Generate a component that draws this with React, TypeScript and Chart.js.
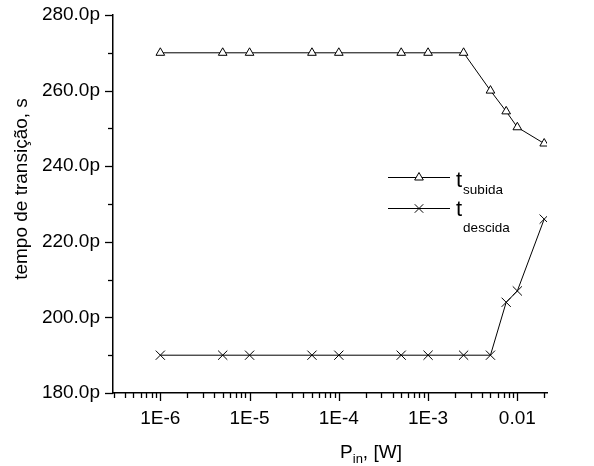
import React, { useEffect, useRef } from "react";
import { Chart, registerables } from "chart.js";

Chart.register(...registerables);

const FONT = "'Liberation Sans', Arial, sans-serif";

const pin = [1e-6, 5e-6, 1e-5, 5e-5, 1e-4, 5e-4, 1e-3, 2.5e-3, 5e-3, 7.5e-3, 0.01, 0.02];
const tSubida = [270, 270, 270, 270, 270, 270, 270, 270, 260, 254.5, 250.3, 246];
const tDescida = [190, 190, 190, 190, 190, 190, 190, 190, 190, 204, 207, 226];

const xTickValues = [1e-6, 1e-5, 1e-4, 1e-3, 0.01];
const xTickLabels = ["1E-6", "1E-5", "1E-4", "1E-3", "0.01"];
const yTickValues = [180, 200, 220, 240, 260, 280];
const yMinorValues = [190, 210, 230, 250, 270];

const X_MIN = 2.95e-7;
const X_MAX = 0.0215;

function drawTriangle(ctx: CanvasRenderingContext2D, x: number, y: number, r: number) {
  const h = r * 1.5;
  const w = r * Math.sqrt(3);
  ctx.beginPath();
  ctx.moveTo(x, y - r);
  ctx.lineTo(x - w / 2, y - r + h);
  ctx.lineTo(x + w / 2, y - r + h);
  ctx.closePath();
  ctx.fillStyle = "#fff";
  ctx.fill();
  ctx.stroke();
}

function drawCross(ctx: CanvasRenderingContext2D, x: number, y: number, r: number) {
  const d = r * Math.SQRT1_2;
  ctx.beginPath();
  ctx.moveTo(x - d, y - d);
  ctx.lineTo(x + d, y + d);
  ctx.moveTo(x - d, y + d);
  ctx.lineTo(x + d, y - d);
  ctx.stroke();
}

const decorPlugin = {
  id: "decor",
  afterDraw(chart: any) {
    const ctx: CanvasRenderingContext2D = chart.ctx;
    const xs = chart.scales.x;
    const ys = chart.scales.y;
    const area = chart.chartArea;
    ctx.save();
    ctx.strokeStyle = "#000";
    ctx.fillStyle = "#000";
    ctx.lineWidth = 1.3;
    for (let e = -7; e <= -1; e++) {
      for (let m = 1; m <= 9; m++) {
        const v = m * Math.pow(10, e);
        if (v < X_MIN * 0.999 || v > X_MAX * 1.001) continue;
        const px = Math.round(xs.getPixelForValue(v)) + 0.5;
        const len = m === 1 ? 8 : 5;
        ctx.beginPath();
        ctx.moveTo(px, area.bottom);
        ctx.lineTo(px, area.bottom + len);
        ctx.stroke();
      }
    }
    for (const v of yTickValues) {
      const py = Math.round(ys.getPixelForValue(v)) + 0.5;
      ctx.beginPath();
      ctx.moveTo(area.left - 8, py);
      ctx.lineTo(area.left, py);
      ctx.stroke();
    }
    for (const v of yMinorValues) {
      const py = Math.round(ys.getPixelForValue(v)) + 0.5;
      ctx.beginPath();
      ctx.moveTo(area.left - 5, py);
      ctx.lineTo(area.left, py);
      ctx.stroke();
    }
    // y title
    ctx.save();
    ctx.translate(27, 189);
    ctx.rotate(-Math.PI / 2);
    ctx.font = `19px ${FONT}`;
    ctx.textAlign = "center";
    ctx.textBaseline = "alphabetic";
    ctx.fillText("tempo de transição, s", 0, 0);
    ctx.restore();
    // x title
    ctx.textAlign = "left";
    ctx.textBaseline = "alphabetic";
    ctx.font = `19px ${FONT}`;
    const wP = ctx.measureText("P").width;
    const wRest = ctx.measureText(", [W]").width;
    ctx.font = `13px ${FONT}`;
    const wIn = ctx.measureText("in").width;
    let x0 = 371 - (wP + wIn + wRest) / 2;
    ctx.font = `19px ${FONT}`;
    ctx.fillText("P", x0, 458);
    ctx.font = `13px ${FONT}`;
    ctx.fillText("in", x0 + wP, 463);
    ctx.font = `19px ${FONT}`;
    ctx.fillText(", [W]", x0 + wP + wIn, 458);
    // legend
    const legendItems = [
      { y: 177, style: "triangle", sub: "subida", tBase: 187, subBase: 194 },
      { y: 208, style: "cross", sub: "descida", tBase: 216, subBase: 232 },
    ];
    for (const it of legendItems) {
      ctx.lineWidth = 1;
      ctx.strokeStyle = "#000";
      ctx.beginPath();
      ctx.moveTo(388, it.y + 0.5);
      ctx.lineTo(450, it.y + 0.5);
      ctx.stroke();
      if (it.style === "triangle") drawTriangle(ctx, 419, it.y + 0.5, 5);
      else drawCross(ctx, 419, it.y + 0.5, 6);
      ctx.fillStyle = "#000";
      ctx.font = `22px ${FONT}`;
      ctx.fillText("t", 456, it.tBase);
      const wt = ctx.measureText("t").width;
      ctx.font = `13.5px ${FONT}`;
      ctx.fillText(it.sub, 456 + wt + 1, it.subBase);
    }
    ctx.restore();
  },
};

export default function App() {
  const ref = useRef<HTMLCanvasElement | null>(null);
  useEffect(() => {
    if (!ref.current) return;
    const mk = (vals: number[]) => pin.map((x, i) => ({ x, y: vals[i] }));
    const chart = new Chart(ref.current, {
      type: "line",
      data: {
        datasets: [
          {
            label: "t subida",
            data: mk(tSubida),
            borderColor: "#000",
            borderWidth: 1,
            pointStyle: "triangle",
            pointRadius: 5,
            pointBorderWidth: 1,
            pointBorderColor: "#000",
            pointBackgroundColor: "#fff",
            fill: false,
            tension: 0,
          },
          {
            label: "t descida",
            data: mk(tDescida),
            borderColor: "#000",
            borderWidth: 1,
            pointStyle: "crossRot",
            pointRadius: 6.5,
            pointBorderWidth: 1,
            pointBorderColor: "#000",
            pointBackgroundColor: "#fff",
            fill: false,
            tension: 0,
          },
        ],
      },
      options: {
        responsive: false,
        animation: false,
        layout: { padding: { top: 15, right: 47, left: 0, bottom: 0 } },
        plugins: { legend: { display: false }, tooltip: { enabled: false } },
        scales: {
          x: {
            type: "logarithmic",
            min: X_MIN,
            max: X_MAX,
            afterFit: (s: any) => { s.height = 73; s.paddingLeft = 0; s.paddingRight = 0; },
            afterBuildTicks: (s: any) => { s.ticks = xTickValues.map((v) => ({ value: v, major: true })); },
            grid: { drawOnChartArea: false, drawTicks: false, color: "transparent" },
            border: { display: true, color: "#000", width: 1.5 },
            ticks: {
              autoSkip: false,
              maxRotation: 0,
              padding: 14,
              color: "#000",
              font: { family: FONT, size: 19 },
              callback: (v: any) => {
                const i = xTickValues.findIndex((t) => Math.abs(t - Number(v)) / t < 1e-6);
                return i >= 0 ? xTickLabels[i] : "";
              },
            },
          },
          y: {
            type: "linear",
            min: 180,
            max: 280,
            afterFit: (s: any) => { s.width = 113; s.paddingTop = 0; s.paddingBottom = 0; },
            afterBuildTicks: (s: any) => { s.ticks = yTickValues.map((v) => ({ value: v })); },
            grid: { drawOnChartArea: false, drawTicks: false, color: "transparent" },
            border: { display: true, color: "#000", width: 1.5 },
            ticks: {
              padding: 13,
              color: "#000",
              font: { family: FONT, size: 19 },
              callback: (v: any) => Number(v).toFixed(1) + "p",
            },
          },
        },
      },
      plugins: [decorPlugin],
    } as any);
    return () => chart.destroy();
  }, []);
  return (
    <div style={{ position: "fixed", left: 0, top: 0, width: 594, height: 466, background: "#fff" }}>
      <canvas ref={ref} width={594} height={466} style={{ display: "block", width: 594, height: 466 }} />
    </div>
  );
}
